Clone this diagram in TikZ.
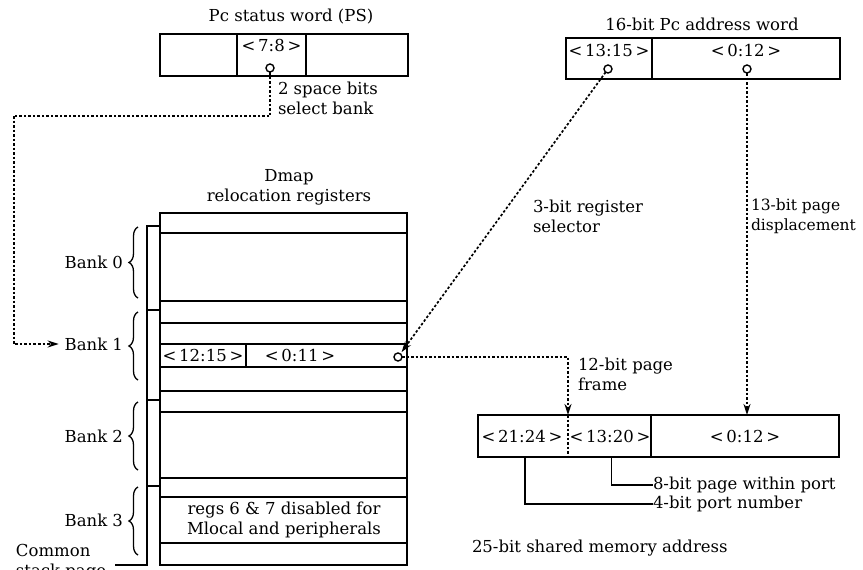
\documentclass[tikz,border=0pt]{standalone}
\usepackage{fontspec}
\setmainfont{DejaVu Serif}
\usetikzlibrary{decorations.pathreplacing,arrows.meta,calc}
\begin{document}
\begin{tikzpicture}[x=1pt,y=-1pt,
  every node/.style={font=\fontsize{16.5}{20}\selectfont, inner sep=0pt, outer sep=0pt},
  box/.style 2 args={draw, line width=1.6pt, minimum width=#1, minimum height=#2},
  plain/.style 2 args={minimum width=#1, minimum height=#2},
  tap/.style={draw, circle, line width=1.4pt, minimum size=8pt, fill=white},
  dots/.style={line width=1.7pt, dash pattern=on 2.5pt off 2pt},
  tip/.style={-{Stealth[length=11pt,width=7pt]}},
  lbl/.style={align=left, anchor=west},
  brc/.style={decorate, decoration={brace, amplitude=9pt}, line width=1.3pt},
  thin/.style={line width=1.6pt}
]
\useasboundingbox (0,0) rectangle (863,570);

% ---- PC status word
\node (pstitle) at (291,17) {Pc status word (PS)};
\node[box={77pt}{42pt}] (psA) at (198.5,55) {};
\node[box={69pt}{42pt}] (psB) at (271.5,55) {};
\node[box={102pt}{42pt}] (psC) at (357,55) {};
\node (psBt) at (271.5,45) {<\,7:8\,>};
\node[tap] (psc) at (270,68) {};
\node[lbl] (spacebits) at (278,98) {2 space bits\\select bank};

% ---- 16-bit address word
\node (adtitle) at (702,24) {16-bit Pc address word};
\node[box={86pt}{41pt}] (adA) at (609,58.5) {};
\node[box={188pt}{41pt}] (adB) at (746,58.5) {};
\node (adAt) at (609,50) {<\,13:15\,>};
\node (adBt) at (746,50) {<\,0:12\,>};
\node[tap] (ac1) at (608,69) {};
\node[tap] (ac2) at (747,69) {};

% ---- Dmap registers
\node[align=center] (dmaptitle) at (289,187) {Dmap\\relocation registers};
\foreach \t/\b [count=\i] in {213/233,233/301,301/323,323/344,367/391,391/412,412/478,478/497,497/543,543/565}
  \node[box={247pt}{(\b-\t)*1pt}] (r\i) at (283.5,{(\t+\b)/2}) {};
\node[box={86pt}{23pt}] (r5a) at (203,355.5) {};
\node[box={161pt}{23pt}] (r5b) at (326.5,355.5) {};
\node (r5at) at (203,355) {<\,12:15\,>};
\node (r5bt) at (300,355) {<\,0:11\,>};
\node[tap] (c5) at (398,357) {};
\node[align=center] (regs) at (284,520) {regs 6 \& 7 disabled for\\Mlocal and peripherals};

% left bar
\draw[thin] (160,226) -- (147,226) -- (147,565) -- (115,565);
\draw[thin] (147,310) -- (160,310);
\draw[thin] (147,400) -- (160,400);
\draw[thin] (147,486) -- (160,486);

% braces and bank labels
\draw[brc] (138,298) -- (138,227);
\draw[brc] (138,380) -- (138,312);
\draw[brc] (138,470) -- (138,402);
\draw[brc] (138,555) -- (138,487);
\node[anchor=east] (bank0) at (123,262) {Bank 0};
\node[anchor=east] (bank1) at (123,344) {Bank 1};
\node[anchor=east] (bank2) at (123,436) {Bank 2};
\node[anchor=east] (bank3) at (123,520) {Bank 3};
\node[align=left, anchor=west] (common) at (16,562) {Common\\stack page};

% ---- shared memory address
\node[box={361pt}{42pt}] (mem) at (658.5,436) {};
\node[plain={90pt}{42pt}] (b1) at (523,436) {};
\node[plain={83pt}{42pt}] (b2) at (609.5,436) {};
\node[plain={188pt}{42pt}] (b3) at (745,436) {};
\node (b1t) at (522,436) {<\,21:24\,>};
\node (b2t) at (610,436) {<\,13:20\,>};
\node (b3t) at (745,436) {<\,0:12\,>};
\draw[thin] (b2.north east) -- (b2.south east);
\draw[dots] (b1.north east) -- (b1.south east);
\node[anchor=west] (pagein) at (653,485) {8-bit page within port};
\node[anchor=west] (portnum) at (653,504) {4-bit port number};
\draw[thin] ([xshift=2pt]b1.south) |- (portnum.west);
\draw[thin] ([xshift=2pt]b2.south) |- (pagein.west);
\node[anchor=west] (memtitle) at (472,548) {25-bit shared memory address};

% ---- connectors
\coordinate (turnA) at (14,116);
\draw[dots] (psc.south) |- (turnA);
\draw[dots,tip] (turnA) |- ([xshift=-6pt]bank1.west);
\draw[dots,tip,shorten >=2pt] (ac1) -- (c5);
\draw[dots,tip] (c5.east) -| (b1.north east);
\draw[dots,tip] (ac2.south) -- (ac2.south |- mem.north);

\node[lbl] (regsel) at (533,216) {3-bit register\\selector};
\node[lbl, font=\fontsize{15.5}{20}\selectfont] (disp) at (751,216) {13-bit page\\displacement};
\node[lbl] (frame) at (578,374) {12-bit page\\frame};
\end{tikzpicture}
\end{document}
